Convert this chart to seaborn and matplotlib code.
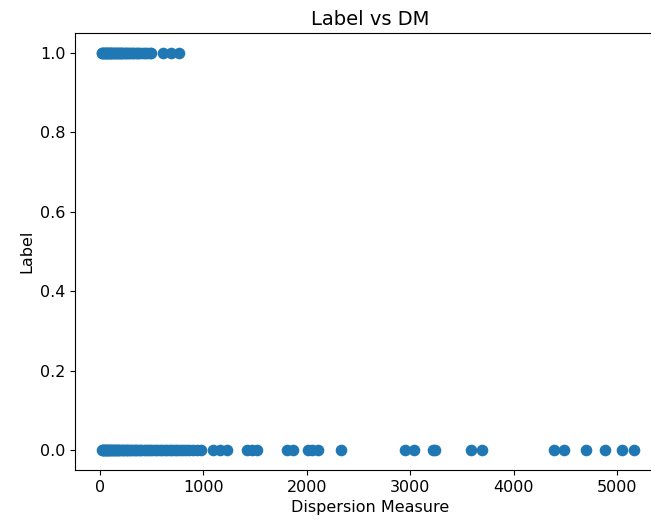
import numpy as np
import pandas as pd
import matplotlib
matplotlib.use("Agg")
import matplotlib.pyplot as plt
import seaborn as sns

# dispersion measure values, grouped by label
dm_label1 = [15, 22, 30, 38, 45, 52, 60, 68, 75, 84, 92, 100, 110, 118, 126, 135,
             143, 152, 160, 170, 180, 190, 200, 212, 225, 238, 250, 262, 275, 290,
             305, 320, 336, 352, 370, 390, 410, 430, 455, 480, 495, 610, 690, 760]
dm_label0 = [18, 25, 32, 40, 48, 55, 63, 71, 80, 88, 97, 105, 115, 124, 133, 142,
             152, 162, 172, 183, 195, 207, 220, 233, 246, 260, 274, 288, 302, 318,
             334, 350, 366, 383, 400, 420, 440, 460, 482, 505, 528, 552, 575, 600,
             625, 650, 675, 700, 722, 745, 770, 800, 830, 860, 900, 940, 975,
             1093, 1160, 1228, 1422, 1470, 1518, 1808, 1867, 2012, 2050, 2108, 2331,
             2950, 3037, 3220, 3240, 3588, 3694, 4391, 4487, 4700, 4884, 5048, 5164]

df = pd.DataFrame({
    "DM": dm_label1 + dm_label0,
    "Label": [1.0] * len(dm_label1) + [0.0] * len(dm_label0),
})

fig = plt.figure(figsize=(6.51, 5.23), dpi=100)
# the original image is cropped on the right, so the axes run past the edge
ax = fig.add_axes([0.1157, 0.1015, 0.905, 0.835])
sns.scatterplot(data=df, x="DM", y="Label", color="#1f77b4", s=70,
                linewidth=0, ax=ax)
ax.set_xlim(-240, 5460)
ax.set_yticks([0.0, 0.2, 0.4, 0.6, 0.8, 1.0])
ax.set_xticks([0, 1000, 2000, 3000, 4000, 5000])
ax.tick_params(labelsize=11.5)
ax.set_title("Label vs DM", fontsize=14)
ax.set_xlabel("Dispersion Measure", fontsize=11.5)
ax.set_ylabel("Label", fontsize=11.5)
fig.savefig("out.png", dpi=100)
